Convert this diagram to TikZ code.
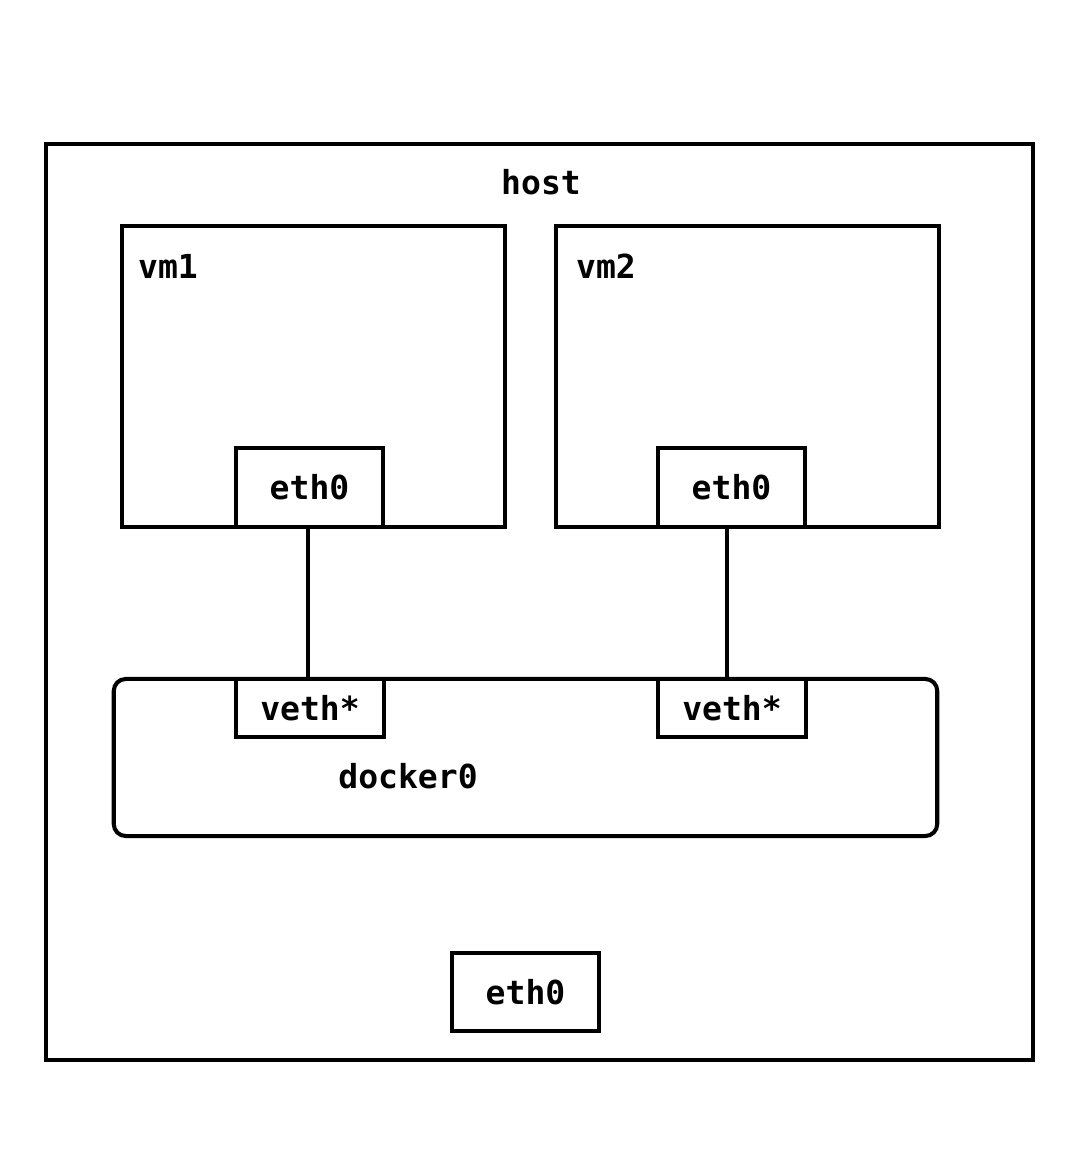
\documentclass[tikz,border=0pt]{standalone}
\usepackage{fontspec}
\newfontfamily\netfont{DejaVu Sans Mono Bold}
\usepackage{tikz}
\usetikzlibrary{positioning}

\begin{document}
\begin{tikzpicture}[x=0.01cm,y=-0.01cm,line width=1.15pt,
  font=\netfont\fontsize{9.4}{11}\selectfont,
  box/.style={draw,rectangle,inner sep=0pt},
  port/.style={draw,rectangle,fill=white,inner sep=0pt,minimum width=1.47cm},
  lbl/.style={inner sep=0pt}]
\useasboundingbox (0,0) rectangle (1080,1168);

\node[box,minimum width=9.87cm,minimum height=9.16cm] (host) at (539.5,602) {};
\node[lbl] (hostlbl) at (541,182) {host};

\node[box,minimum width=3.83cm,minimum height=3.01cm] (vmA) at (313.5,376.5) {};
\node[lbl] (vmAlbl) at (168,266) {vm1};
\node[box,minimum width=3.83cm,minimum height=3.01cm] (vmB) at (747.5,376.5) {};
\node[lbl] (vmBlbl) at (606,266) {vm2};

\node[port,minimum height=0.79cm] (ethA) at (309.5,487.5) {eth0};
\node[port,minimum height=0.79cm] (ethB) at (731.5,487.5) {eth0};

\node[box,rounded corners=0.12cm,minimum width=8.23cm,minimum height=1.57cm] (docker) at (525.5,757.5) {};
\node[lbl] (dockerlbl) at (408,776) {docker0};

\node[port,minimum height=0.58cm] (vethA) at (310,708) {veth*};
\node[port,minimum height=0.58cm] (vethB) at (732,708) {veth*};

\node[port,minimum height=0.78cm] (ethH) at (525.5,992) {eth0};

\draw ([xshift=-0.015cm]ethA.south) -- ([xshift=-0.015cm]ethA.south |- vethA.north);
\draw ([xshift=-0.045cm]ethB.south) -- ([xshift=-0.045cm]ethB.south |- vethB.north);

\end{tikzpicture}
\end{document}
